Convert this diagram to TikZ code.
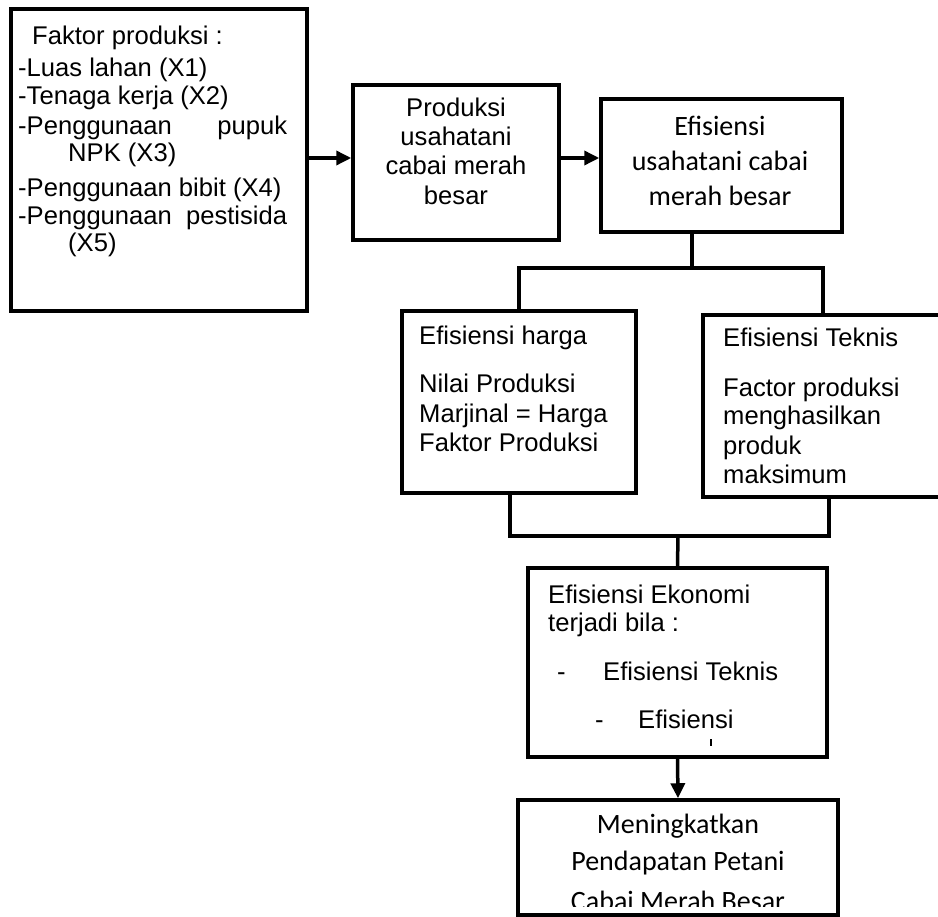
\documentclass[tikz,border=0pt]{standalone}
\usepackage{fontspec}
\setmainfont{Liberation Sans}
\newfontfamily\calibri{Carlito}
\usetikzlibrary{arrows.meta}

\begin{document}
\begin{tikzpicture}[x=1pt, y=-1pt, >={Triangle[length=15pt, width=14pt]},
        box/.style={draw, line width=3.5pt, inner sep=0pt},
        link/.style={line width=3.5pt},
        arial/.style={font=\fontsize{25.6}{30}\selectfont, inner sep=0pt},
        cali/.style={font=\calibri\fontsize{28}{34}\selectfont, inner sep=0pt}]

        % page
        \fill[white] (0,0) rectangle (938,917);
        \clip (0,0) rectangle (938,917);

        % --- Texts ---
        % Faktor produksi
        \foreach \yy/\xx/\txt [count=\i] in {45/32/{Faktor produksi :}, 77/18/{-Luas lahan (X1)},
                105/18/{-Tenaga kerja (X2)}, 135/18/{\makebox[269pt][s]{-Penggunaan pupuk}},
                162/68/{NPK (X3)}, 197/18/{-Penggunaan bibit (X4)},
                225/18/{\makebox[269pt][s]{-Penggunaan pestisida}}, 252/68/{(X5)}} {
            \node[arial, anchor=base west] (fk\i) at (\xx,\yy) {\txt};
        }
        % Produksi
        \foreach \yy/\txt [count=\i] in {117/Produksi, 146/usahatani, 175/{cabai merah}, 205/besar} {
            \node[arial, anchor=base] (pr\i) at (456,\yy) {\txt};
        }
        % Efisiensi usahatani
        \foreach \yy/\txt [count=\i] in {136/Efisiensi, 171/{usahatani cabai}, 206/{merah besar}} {
            \node[cali, anchor=base] (ef\i) at (720,\yy) {\txt};
        }
        % Efisiensi harga
        \foreach \yy/\txt [count=\i] in {345/{Efisiensi harga}, 393/{Nilai Produksi},
                423/{Marjinal = Harga}, 452/{Faktor Produksi}} {
            \node[arial, anchor=base west] (hg\i) at (419,\yy) {\txt};
        }
        % Efisiensi Teknis
        \foreach \yy/\txt [count=\i] in {347/{Efisiensi Teknis}, 397/{Factor produksi},
                425/menghasilkan, 455/produk, 484/maksimum} {
            \node[arial, anchor=base west] (tk\i) at (723,\yy) {\txt};
        }
        % Efisiensi Ekonomi
        \node[arial, anchor=base west] (ek1) at (548,603) {Efisiensi Ekonomi};
        \node[arial, anchor=base west] (ek2) at (548,631) {terjadi bila :};
        \node[arial, anchor=base west] (ek3) at (557,680) {-};
        \node[arial, anchor=base west] (ek4) at (603,680) {Efisiensi Teknis};
        \node[arial, anchor=base west] (ek5) at (595,728) {-};
        \node[arial, anchor=base west] (ek6) at (638,728) {Efisiensi};
        \draw[line width=2pt] (711,739) -- (711,746);
        % Pendapatan (last line cut off at the bottom)
        \begin{scope}
            \clip (518,800) rectangle (838,906);
            \foreach \yy/\txt [count=\i] in {833/Meningkatkan, 870/{Pendapatan Petani}, 910/{Cabai Merah Besar}} {
                \node[cali, anchor=base] (hs\i) at (678,\yy) {\txt};
            }
        \end{scope}

        % --- Boxes ---
        \node[box, minimum width=296, minimum height=302] (faktor) at (159,160) {};
        \node[box, minimum width=206, minimum height=155] (produksi) at (456,162.5) {};
        \node[box, minimum width=241, minimum height=133] (efisiensi) at (721.5,165.5) {};
        \node[box, minimum width=234, minimum height=182] (harga) at (519,402) {};
        \node[box, minimum width=246, minimum height=182] (teknis) at (826,406) {};
        \node[box, minimum width=299, minimum height=189] (ekonomi) at (677.5,662.5) {};
        \node[box, minimum width=320, minimum height=115] (hasil) at (678,857.5) {};

        % --- Connectors ---
        \coordinate (row) at (0,158);
        \coordinate (split) at (692,268);
        \coordinate (merge) at (678,536);
        \draw[link, ->] (faktor.east |- row) -- (produksi.west |- row);
        \draw[link, ->] (produksi.east |- row) -- (efisiensi.west |- row);
        \draw[link] (efisiensi.south -| split) -- (split);
        \draw[link] (harga.north) |- (split) -| ([xshift=-3pt]teknis.north);
        \draw[link] ([xshift=-9pt]harga.south) |- (merge) -| ([xshift=3pt]teknis.south);
        \draw[link] (merge) -- (ekonomi.north);
        \draw[link, ->] (ekonomi.south) -- (hasil.north);
    \end{tikzpicture}
\end{document}
